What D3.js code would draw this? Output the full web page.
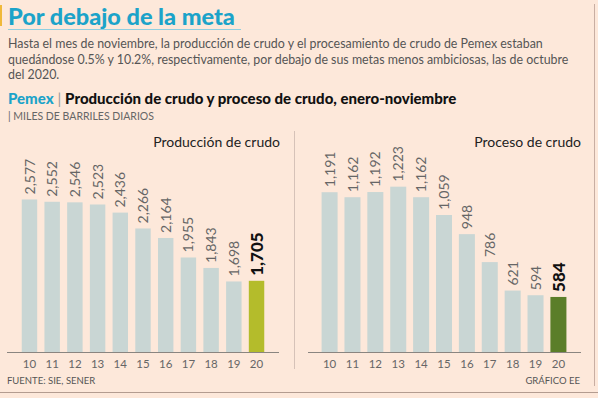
<!DOCTYPE html>
<html>
<head>
<meta charset="utf-8">
<script src="https://cdn.jsdelivr.net/npm/d3@7"></script>
<style>
  html, body { margin: 0; padding: 0; background: #fde8da; }
  svg { display: block; font-family: Lato, "Open Sans", sans-serif; }
</style>
</head>
<body>
<div id="chart"></div>
<script>
const years = ['10', '11', '12', '13', '14', '15', '16', '17', '18', '19', '20'];
const produccion = [2577, 2552, 2546, 2523, 2436, 2266, 2164, 1955, 1843, 1698, 1705];
const proceso = [1191, 1162, 1192, 1223, 1162, 1059, 948, 786, 621, 594, 584];

const width = 598, height = 398;
const svg = d3.select('#chart').append('svg')
  .attr('width', width)
  .attr('height', height);

svg.append('rect').attr('width', width).attr('height', height).attr('fill', '#fde8da');

// tira amarilla y titulo
svg.append('rect').attr('x', 0).attr('y', 5).attr('width', 2).attr('height', 21).attr('fill', '#f0b93a');
svg.append('text')
  .attr('x', 8).attr('y', 25)
  .style('font-size', '23.5px').style('font-weight', 900)
  .attr('fill', '#1ca3c9')
  .text('Por debajo de la meta');
svg.append('line')
  .attr('x1', 8).attr('x2', 241).attr('y1', 29.5).attr('y2', 29.5)
  .attr('stroke', '#8fcfe0').attr('stroke-width', 1);

// linea derecha y linea inferior
svg.append('line').attr('x1', 594.5).attr('x2', 594.5).attr('y1', 4).attr('y2', 386)
  .attr('stroke', '#c8aea3').attr('stroke-width', 1);
svg.append('line').attr('x1', 0).attr('x2', width).attr('y1', 392.5).attr('y2', 392.5)
  .attr('stroke', '#b39c90').attr('stroke-width', 1);

const bodyLines = [
  'Hasta el mes de noviembre, la producción de crudo y el procesamiento de crudo de Pemex estaban',
  'quedándose 0.5% y 10.2%, respectivamente, por debajo de sus metas menos ambiciosas, las de octubre',
  'del 2020.'
];
svg.append('g').selectAll('text')
  .data(bodyLines)
  .enter()
  .append('text')
  .attr('x', 8)
  .attr('y', (d, i) => 48 + i * 15.5)
  .style('font-size', '12.4px')
  .attr('fill', '#555')
  .text(d => d);

const sub = svg.append('text').attr('x', 8).attr('y', 104).style('font-size', '15px').style('font-weight', 900);
sub.append('tspan').attr('fill', '#1ca3c9').text('Pemex');
sub.append('tspan').attr('fill', '#999').style('font-weight', 400).text(' | ');
sub.append('tspan').attr('fill', '#111').text('Producción de crudo y proceso de crudo, enero-noviembre');

svg.append('text')
  .attr('x', 8).attr('y', 120)
  .style('font-size', '10.5px')
  .attr('fill', '#666')
  .text('| MILES DE BARRILES DIARIOS');

// divisor central
svg.append('line').attr('x1', 294.5).attr('x2', 294.5).attr('y1', 131).attr('y2', 369)
  .attr('stroke', '#d6c2b8').attr('stroke-width', 1);

function drawPanel(opts) {
  const g = svg.append('g');

  const x = d3.scaleBand()
    .domain(years)
    .range(opts.xRange)
    .paddingInner(opts.padIn)
    .paddingOuter(opts.padOut);

  const y = d3.scaleLinear()
    .domain(opts.yDomain)
    .range(opts.yRange);

  g.append('text')
    .attr('x', opts.titleX).attr('y', 147)
    .attr('text-anchor', 'end')
    .style('font-size', '14px')
    .attr('fill', '#222')
    .text(opts.title);

  g.selectAll('.bar')
    .data(opts.values)
    .enter()
    .append('rect')
    .attr('class', 'bar')
    .attr('x', (d, i) => x(years[i]))
    .attr('width', x.bandwidth())
    .attr('y', d => y(d))
    .attr('height', d => y.range()[0] - y(d))
    .attr('fill', (d, i) => i === opts.values.length - 1 ? opts.highlight : '#c9d6d4');

  const fmt = d3.format(',');
  g.selectAll('.val')
    .data(opts.values)
    .enter()
    .append('text')
    .attr('class', 'val')
    .attr('transform', (d, i) => `translate(${x(years[i]) + x.bandwidth() / 2},${y(d) - 5}) rotate(-90)`)
    .attr('dy', '0.36em')
    .style('font-size', (d, i) => i === opts.values.length - 1 ? '17px' : '14px')
    .style('font-weight', (d, i) => i === opts.values.length - 1 ? 900 : 400)
    .attr('fill', (d, i) => i === opts.values.length - 1 ? '#111' : '#666')
    .text(d => fmt(d));

  const axis = d3.axisBottom(x).tickSize(0).tickPadding(8);
  const ax = g.append('g')
    .attr('transform', `translate(0,${y.range()[0]})`)
    .call(axis);
  ax.select('.domain').remove();
  ax.selectAll('text').style('font-size', '11.5px').attr('fill', '#666').style('font-family', 'Lato, sans-serif');
  g.append('line')
    .attr('x1', opts.axisX[0]).attr('x2', opts.axisX[1])
    .attr('y1', y.range()[0] + 0.5).attr('y2', y.range()[0] + 0.5)
    .attr('stroke', '#8a8580').attr('stroke-width', 1);
}

drawPanel({
  title: 'Producción de crudo',
  titleX: 280,
  values: produccion,
  highlight: '#b4bc2b',
  xRange: [18, 268],
  padIn: 0.32,
  padOut: 0.165,
  yDomain: [942, 2600],
  yRange: [352, 197.3],
  axisX: [7, 279]
});

drawPanel({
  title: 'Proceso de crudo',
  titleX: 581,
  values: proceso,
  highlight: '#5b7e29',
  xRange: [317, 571],
  padIn: 0.3,
  padOut: 0.2,
  yDomain: [265, 1300],
  yRange: [352, 173.4],
  axisX: [308, 581]
});

svg.append('text')
  .attr('x', 7).attr('y', 384)
  .style('font-size', '9.5px').attr('fill', '#555')
  .text('FUENTE: SIE, SENER');
svg.append('text')
  .attr('x', 580).attr('y', 384)
  .attr('text-anchor', 'end')
  .style('font-size', '9.5px').attr('fill', '#555')
  .text('GRÁFICO EE');
</script>
</body>
</html>
